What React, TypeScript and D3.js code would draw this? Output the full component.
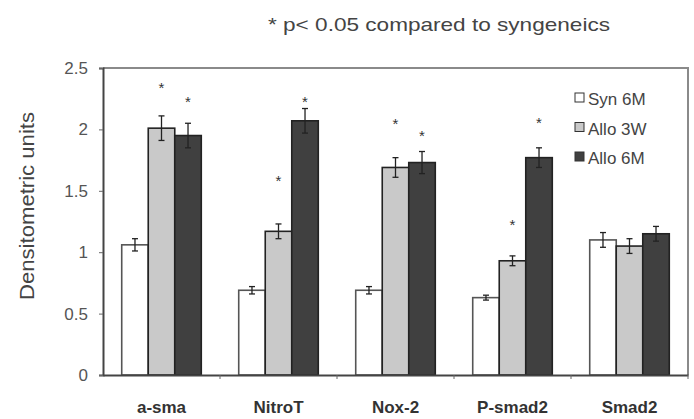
import React, { useEffect, useRef } from 'react';
import * as d3 from 'd3';

const categories = ['a-sma', 'NitroT', 'Nox-2', 'P-smad2', 'Smad2'];
const seriesNames = ['Syn 6M', 'Allo 3W', 'Allo 6M'];
const seriesColors = ['#ffffff', '#c9c9c9', '#404040'];

// means per series, in category order
const synValues = [1.06, 0.69, 0.69, 0.63, 1.1];
const allo3wValues = [2.01, 1.17, 1.69, 0.93, 1.05];
const allo6mValues = [1.95, 2.07, 1.73, 1.77, 1.15];

const synErrors = [0.05, 0.03, 0.03, 0.02, 0.06];
const allo3wErrors = [0.1, 0.06, 0.08, 0.04, 0.06];
const allo6mErrors = [0.1, 0.1, 0.09, 0.08, 0.06];

// star height (in data units) or null where not significant
const allo3wStars = [2.35, 1.6, 2.06, 1.24, null];
const allo6mStars = [2.24, 2.24, 1.96, 2.07, null];

const yTicks = [0, 0.5, 1, 1.5, 2, 2.5];

const FONT = 'Arial, Liberation Sans, sans-serif';

export default function App() {
  const svgRef = useRef<SVGSVGElement>(null);

  useEffect(() => {
    const svg = d3.select(svgRef.current);
    svg.selectAll('*').remove();

    const margin = { top: 68, right: 6, bottom: 44, left: 103 };
    const W = 694;
    const H = 419;
    const width = W - margin.left - margin.right;
    const height = H - margin.top - margin.bottom;

    const values = [synValues, allo3wValues, allo6mValues];
    const errors = [synErrors, allo3wErrors, allo6mErrors];
    const stars = [null, allo3wStars, allo6mStars];

    const x = d3.scaleBand().domain(categories).range([0, width]);
    const inner = d3
      .scaleBand()
      .domain(seriesNames)
      .range([0, x.bandwidth() * 0.68])
      .padding(0);
    const offset = (x.bandwidth() - x.bandwidth() * 0.68) / 2;
    const y = d3.scaleLinear().domain([0, 2.5]).range([height, 0]);

    const g = svg
      .append('g')
      .attr('transform', `translate(${margin.left},${margin.top})`);

    // frame top/right
    g.append('path')
      .attr('d', `M0,0H${width}V${height}`)
      .attr('fill', 'none')
      .attr('stroke', '#8a8a8a')
      .attr('stroke-width', 2);

    // bars
    seriesNames.forEach((s, si) => {
      categories.forEach((c, ci) => {
        const v = values[si][ci];
        const e = errors[si][ci];
        const bx = x(c)! + offset + inner(s)!;
        const bw = inner.bandwidth();
        g.append('rect')
          .attr('x', bx)
          .attr('y', y(v))
          .attr('width', bw)
          .attr('height', height - y(v))
          .attr('fill', seriesColors[si])
          .attr('stroke', si === 0 ? '#555' : '#222')
          .attr('stroke-width', 1.6);
        const cx = bx + bw / 2;
        const eg = g.append('g').attr('stroke', '#222').attr('stroke-width', 1.3);
        eg.append('line').attr('x1', cx).attr('x2', cx).attr('y1', y(v + e)).attr('y2', y(v - e));
        eg.append('line').attr('x1', cx - 3).attr('x2', cx + 3).attr('y1', y(v + e)).attr('y2', y(v + e));
        eg.append('line').attr('x1', cx - 3).attr('x2', cx + 3).attr('y1', y(v - e)).attr('y2', y(v - e));
        const st = stars[si];
        if (st && st[ci] != null) {
          g.append('text')
            .attr('x', cx)
            .attr('y', y(st[ci] as number) + 7)
            .attr('text-anchor', 'middle')
            .attr('font-family', FONT)
            .attr('font-size', 15)
            .attr('fill', '#333')
            .text('*');
        }
      });
    });

    // y axis
    const ya = g
      .append('g')
      .call(d3.axisLeft(y).tickValues(yTicks).tickFormat(d3.format('')).tickSize(4).tickPadding(11));
    ya.select('.domain').attr('stroke', '#444').attr('stroke-width', 2);
    ya.selectAll('.tick line').attr('stroke', '#666');
    ya.selectAll('text')
      .attr('font-family', FONT)
      .attr('font-size', 17)
      .attr('fill', '#555');

    // x axis
    const xa = g
      .append('g')
      .attr('transform', `translate(0,${height})`)
      .call(d3.axisBottom(x).tickSize(0).tickPadding(26));
    xa.select('.domain').attr('stroke', '#444').attr('stroke-width', 2);
    xa.selectAll('text')
      .attr('font-family', FONT)
      .attr('font-size', 17)
      .attr('font-weight', 'bold')
      .attr('fill', '#333');
    // boundary ticks between categories
    xa.selectAll('.bound')
      .data(categories)
      .enter()
      .append('line')
      .attr('x1', (d, i) => x.step() * (i + 1))
      .attr('x2', (d, i) => x.step() * (i + 1))
      .attr('y1', 0)
      .attr('y2', 4)
      .attr('stroke', '#666');

    // y label
    svg
      .append('text')
      .attr('transform', `translate(34,${margin.top + 138}) rotate(-90)`)
      .attr('text-anchor', 'middle')
      .attr('font-family', FONT)
      .attr('font-size', 20)
      .attr('textLength', 188)
      .attr('lengthAdjust', 'spacingAndGlyphs')
      .attr('fill', '#444')
      .text('Densitometric units');

    // title note
    svg
      .append('text')
      .attr('x', 268)
      .attr('y', 31)
      .attr('font-family', FONT)
      .attr('font-size', 19)
      .attr('textLength', 342)
      .attr('lengthAdjust', 'spacingAndGlyphs')
      .attr('fill', '#444')
      .text('* p< 0.05 compared to syngeneics');

    // legend
    const lg = svg.append('g').attr('transform', 'translate(575,98)');
    seriesNames.forEach((s, i) => {
      const row = lg.append('g').attr('transform', `translate(0,${i * 29.5})`);
      row.append('rect')
        .attr('x', 0)
        .attr('y', -5)
        .attr('width', 9)
        .attr('height', 9)
        .attr('fill', seriesColors[i])
        .attr('stroke', '#333')
        .attr('stroke-width', 1);
      row.append('text')
        .attr('x', 13)
        .attr('y', 7)
        .attr('font-family', FONT)
        .attr('font-size', 17)
        .attr('fill', '#444')
        .text(s);
    });
  }, []);

  return (
    <svg
      ref={svgRef}
      width={694}
      height={419}
      style={{ position: 'absolute', left: 0, top: 0, background: '#fff' }}
    />
  );
}
